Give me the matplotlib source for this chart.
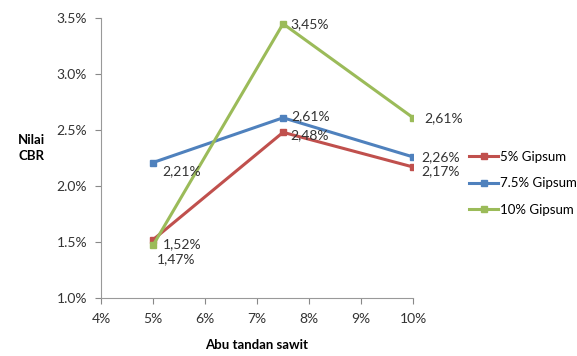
import matplotlib.pyplot as plt
from matplotlib.ticker import FuncFormatter

plt.rcParams['font.family'] = ['Lato', 'DejaVu Sans']

abu = [5, 7.5, 10]
names = ['5% Gipsum', '7.5% Gipsum', '10% Gipsum']
cbr_5 = [1.52, 2.48, 2.17]
cbr_75 = [2.21, 2.61, 2.26]
cbr_10 = [1.47, 3.45, 2.61]
colors = ['#C0504D', '#4F81BD', '#9BBB59']

# label offsets (points) per series/point
offsets = [
    [(7, -3), (5, -2), (6, -3)],
    [(7, -6), (6, 1), (6, 0)],
    [(3, -10), (5, 0), (8, 0)],
]

fig = plt.figure(figsize=(5.77, 3.56), dpi=100)
ax = fig.add_axes([0.175, 0.163, 0.541, 0.786])

for vals, name, c, offs in zip([cbr_5, cbr_75, cbr_10], names, colors, offsets):
    ax.plot(abu, vals, color=c, lw=2.2, marker='s', ms=4, label=name)
    for x, y, (dx, dy) in zip(abu, vals, offs):
        ax.annotate(('%.2f%%' % y).replace('.', ','), (x, y), xytext=(dx, dy),
                    textcoords='offset points', ha='left', va='center',
                    fontsize=10, color='#333333')

ax.set_xlim(4, 10)
ax.set_ylim(1.0, 3.5)
ax.set_xticks([4, 5, 6, 7, 8, 9, 10])
ax.set_yticks([1.0, 1.5, 2.0, 2.5, 3.0, 3.5])
ax.xaxis.set_major_formatter(FuncFormatter(lambda v, p: '%d%%' % v))
ax.yaxis.set_major_formatter(FuncFormatter(lambda v, p: '%.1f%%' % v))
ax.tick_params(colors='#888888', labelcolor='#333333', labelsize=10, length=4)
ax.tick_params(axis='x', pad=7)
ax.tick_params(axis='y', pad=6)

ax.spines['top'].set_visible(False)
ax.spines['right'].set_visible(False)
ax.spines['left'].set_color('#999999')
ax.spines['bottom'].set_color('#999999')

fig.text(0.055, 0.585, 'Nilai\nCBR', ha='center', va='center', fontsize=9.5,
         fontweight='bold', linespacing=1.4)
ax.set_xlabel('Abu tandan sawit', fontsize=9.5, fontweight='bold', labelpad=10)

ax.legend(loc='center left', bbox_to_anchor=(1.18, 0.41), frameon=False,
          fontsize=9.5, handlelength=2.2, labelspacing=1.1, handletextpad=0.1,
          borderaxespad=0, borderpad=0)

fig.savefig('out.png', dpi=100)
